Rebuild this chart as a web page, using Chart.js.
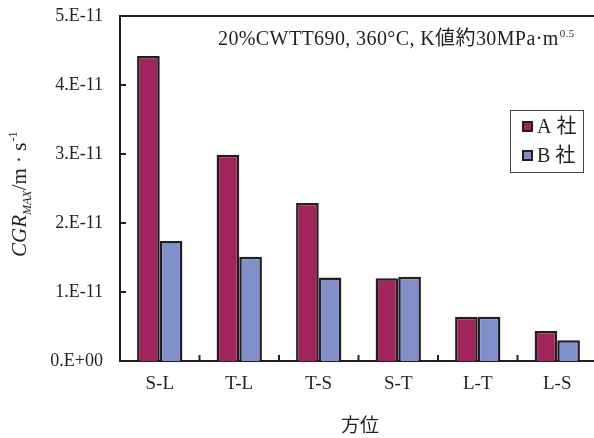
<!DOCTYPE html>
<html>
<head>
<meta charset="utf-8">
<script src="https://cdn.jsdelivr.net/npm/chart.js@4"></script>
<style>
  html, body { margin: 0; padding: 0; background: #fff; overflow: hidden; }
  #wrap { width: 600px; height: 438px; }
</style>
</head>
<body>
<div id="wrap"><canvas id="grafico" width="600" height="438"></canvas></div>
<script>
const categorias = ['S-L', 'T-L', 'T-S', 'S-T', 'L-T', 'L-S'];
const empresaA = [4.42e-11, 2.99e-11, 2.29e-11, 1.20e-11, 0.64e-11, 0.435e-11];
const empresaB = [1.74e-11, 1.51e-11, 1.21e-11, 1.22e-11, 0.64e-11, 0.30e-11];
const nomesSeries = ['A 社', 'B 社'];
const yTickLabels = ['0.E+00', '1.E-11', '2.E-11', '3.E-11', '4.E-11', '5.E-11'];

const serif = "'Liberation Serif', 'Noto Sans CJK JP', serif";
const cores = ['#a2245f', '#8190c8'];
const borda = '#231f20';

// frame top line, inner ticks, annotation, y title and legend
const extras = {
  id: 'extras',
  afterDraw(chart) {
    const ctx = chart.ctx;
    const a = chart.chartArea;
    const x = chart.scales.x, y = chart.scales.y;
    ctx.save();
    ctx.strokeStyle = borda;
    ctx.lineWidth = 2;
    ctx.beginPath();
    ctx.moveTo(a.left - 1, a.top);
    ctx.lineTo(a.right + 5, a.top);
    ctx.stroke();
    // y inner ticks
    for (let i = 1; i < yTickLabels.length - 1; i++) {
      const py = y.getPixelForValue(i * 1e-11);
      ctx.beginPath();
      ctx.moveTo(a.left, py);
      ctx.lineTo(a.left + 6, py);
      ctx.stroke();
    }
    // x inner ticks at category boundaries
    for (let i = 1; i < categorias.length; i++) {
      const px = (x.getPixelForValue(i - 1) + x.getPixelForValue(i)) / 2;
      ctx.beginPath();
      ctx.moveTo(px, a.bottom);
      ctx.lineTo(px, a.bottom - 6);
      ctx.stroke();
    }

    // annotation
    ctx.fillStyle = '#231f20';
    ctx.textBaseline = 'alphabetic';
    ctx.textAlign = 'left';
    ctx.font = '20px ' + serif;
    ctx.letterSpacing = '0.4px';
    const txt = '20%CWTT690, 360°C, K値約30MPa·m';
    ctx.fillText(txt, 218, 45);
    const w = ctx.measureText(txt).width;
    ctx.font = '11px ' + serif;
    ctx.fillText('0.5', 218 + w + 1, 37);
    ctx.letterSpacing = '0px';

    // y title
    ctx.save();
    ctx.translate(26, 257);
    ctx.rotate(-Math.PI / 2);
    let cx = 0;
    ctx.font = 'italic 21px ' + serif;
    ctx.fillText('CGR', cx, 0); cx += ctx.measureText('CGR').width;
    ctx.font = 'italic 12px ' + serif;
    ctx.fillText('MAX', cx, 5); cx += ctx.measureText('MAX').width;
    ctx.font = '21px ' + serif;
    ctx.fillText('/m · s', cx, 0); cx += ctx.measureText('/m · s').width;
    ctx.font = '12px ' + serif;
    ctx.fillText('-1', cx + 1, -9);
    ctx.restore();

    // x title
    ctx.font = '19px ' + serif;
    ctx.textAlign = 'center';
    ctx.fillText('方位', 360, 432);

    // legend
    ctx.lineWidth = 1;
    ctx.strokeStyle = '#444';
    ctx.strokeRect(510.5, 110.5, 73, 62);
    ctx.textAlign = 'left';
    ctx.textBaseline = 'middle';
    chart.data.datasets.forEach((ds, i) => {
      const ly = 127 + i * 29;
      ctx.fillStyle = ds.backgroundColor;
      ctx.strokeStyle = borda;
      ctx.lineWidth = 2;
      ctx.fillRect(523, ly - 5, 9, 9);
      ctx.strokeRect(523, ly - 5, 9, 9);
      ctx.fillStyle = '#231f20';
      ctx.font = '20px ' + serif;
      ctx.fillText(ds.label, 537, ly + 1);
    });
    ctx.restore();
  }
};

new Chart(document.getElementById('grafico').getContext('2d'), {
  type: 'bar',
  data: {
    labels: categorias,
    datasets: [
      { label: nomesSeries[0], data: empresaA, backgroundColor: cores[0], borderColor: borda, borderWidth: 2.5 },
      { label: nomesSeries[1], data: empresaB, backgroundColor: cores[1], borderColor: borda, borderWidth: 2.5 }
    ]
  },
  options: {
    responsive: false,
    animation: false,
    layout: { padding: { left: 0, top: 16, right: 3, bottom: 0 } },
    datasets: { bar: { categoryPercentage: 0.57, barPercentage: 1 } },
    plugins: { legend: { display: false }, tooltip: { enabled: false } },
    scales: {
      x: {
        grid: { display: false, drawTicks: false },
        border: { display: true, color: borda, width: 2 },
        ticks: { color: '#231f20', font: { family: serif, size: 19 }, padding: 12 },
        afterFit(s) { s.height = 77; s.paddingLeft = 0; s.paddingRight = 0; }
      },
      y: {
        min: 0,
        max: 5e-11,
        grid: { display: false, drawTicks: false },
        border: { display: true, color: borda, width: 2 },
        ticks: {
          stepSize: 1e-11,
          color: '#231f20',
          font: { family: serif, size: 18 },
          padding: 17,
          callback: (v) => yTickLabels[Math.round(v / 1e-11)]
        },
        afterFit(s) { s.width = 120; s.paddingTop = 0; s.paddingBottom = 0; }
      }
    }
  },
  plugins: [extras]
});
</script>
</body>
</html>
